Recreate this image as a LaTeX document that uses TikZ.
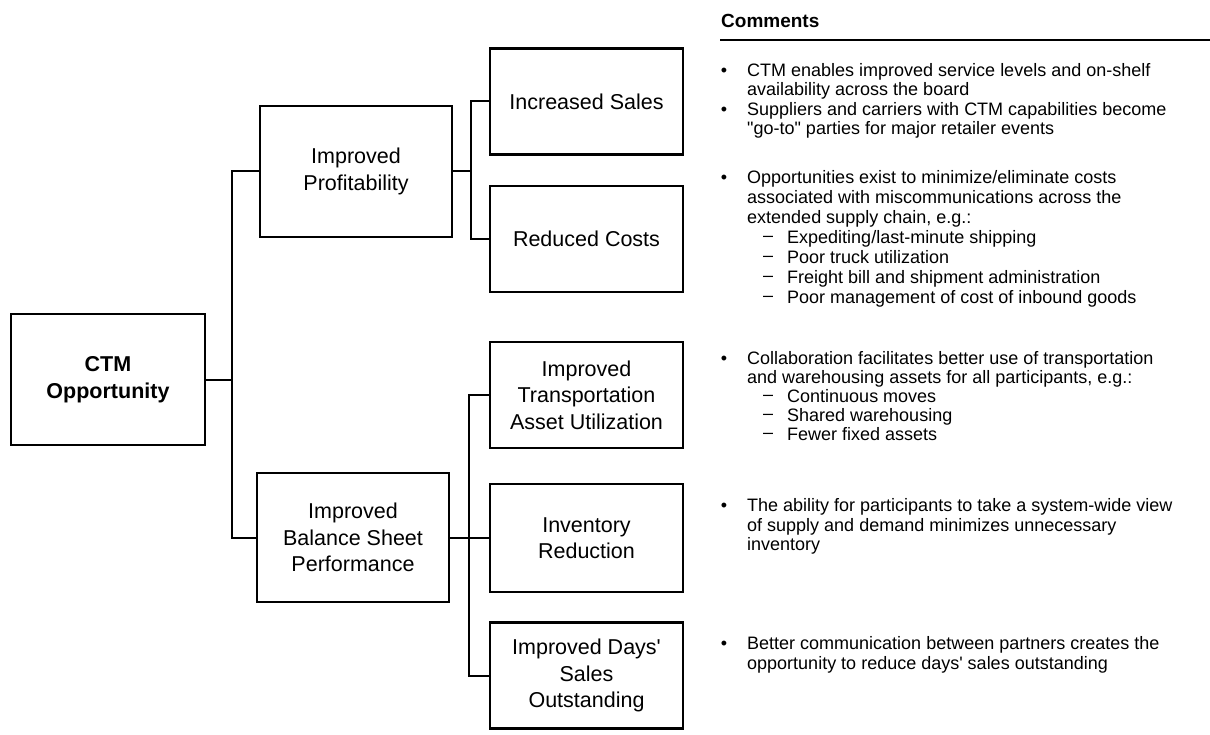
\documentclass[tikz,border=0pt]{standalone}
\usepackage{fontspec}
\setmainfont{Liberation Sans}
\newfontfamily\arialf{Liberation Sans}
\begin{document}
\begin{tikzpicture}[x=1pt,y=-1pt,
  box/.style={draw, line width=2.2pt, align=center, inner sep=0pt,
    font=\arialf\fontsize{21.5}{26.5}\selectfont},
  lvl/.style={box, minimum width=193pt, minimum height=106pt},
  conn/.style={line width=2pt},
  cline/.style={anchor=west, inner sep=0pt, text height=13pt, text depth=4pt,
    font=\arialf\fontsize{18}{19.5}\selectfont},
  bul/.style={anchor=center, inner sep=0pt, font=\arialf\fontsize{18}{19.5}\selectfont},
]
\useasboundingbox (0,0) rectangle (1210,735);

% ---- tree boxes ----
\node[box, minimum width=194pt, minimum height=131pt] (ctm) at (108,379.5)
  {\bfseries CTM\\\bfseries Opportunity};
\node[box, minimum width=192pt, minimum height=131pt] (prof) at (356,171.5)
  {Improved\\Profitability};
\node[box, minimum width=192pt, minimum height=129pt] (bal) at (353,537.5)
  {Improved\\Balance Sheet\\Performance};
\node[lvl] (inc) at (586.5,101.5) {Increased Sales};
\node[lvl] (red) at (586.5,239) {Reduced Costs};
\node[lvl] (tra) at (586.5,395) {Improved\\Transportation\\Asset Utilization};
\node[lvl, minimum height=108pt] (inv) at (586.5,538) {Inventory\\Reduction};
\node[lvl] (day) at (586.5,675.5) {Improved Days'\\Sales\\Outstanding};

% ---- connectors ----
\coordinate (j1) at (232,379.5);
\coordinate (j2) at (471,171.5);
\coordinate (j3) at (469,537.5);
\draw[conn] (ctm.east) -- (j1);
\draw[conn] (prof.west) -| (j1);
\draw[conn] (bal.west) -| (j1);
\draw[conn] (prof.east) -- (j2);
\draw[conn] (inc.west) -| (j2);
\draw[conn] (red.west) -| (j2);
\draw[conn] (bal.east) -- (j3);
\draw[conn] (tra.west) -| (j3);
\draw[conn] (inv.west) -| (j3);
\draw[conn] (day.west) -| (j3);

% ---- comments ----
\node[anchor=west, inner sep=0pt, font=\arialf\fontsize{19}{22}\selectfont\bfseries] (hdr) at (721,21) {Comments};
\coordinate (ula) at (720,40);
\coordinate (ulb) at (1210,40);
\draw[line width=1.8pt] (ula) -- (ulb);

% group 1
\node[bul] (b1) at (724,72) {•};
\node[cline] (t1a) at (747,72) {CTM enables improved service levels and on-shelf};
\node[cline] (t1b) at (747,91.5) {availability across the board};
\node[bul] (b2) at (724,111) {•};
\node[cline] (t2a) at (747,111) {Suppliers and carriers with CTM capabilities become};
\node[cline] (t2b) at (747,130) {"go-to" parties for major retailer events};

% group 2
\node[bul] (b3) at (724,179) {•};
\node[cline] (t3a) at (747,179) {Opportunities exist to minimize/eliminate costs};
\node[cline] (t3b) at (747,199) {associated with miscommunications across the};
\node[cline] (t3c) at (747,219) {extended supply chain, e.g.:};
\node[bul] (d3a) at (768,239) {–};
\node[cline] (t3d) at (787,239) {Expediting/last-minute shipping};
\node[bul] (d3b) at (768,259) {–};
\node[cline] (t3e) at (787,259) {Poor truck utilization};
\node[bul] (d3c) at (768,279) {–};
\node[cline] (t3f) at (787,279) {Freight bill and shipment administration};
\node[bul] (d3d) at (768,299) {–};
\node[cline] (t3g) at (787,299) {Poor management of cost of inbound goods};

% group 3
\node[bul] (b4) at (724,360) {•};
\node[cline] (t4a) at (747,360) {Collaboration facilitates better use of transportation};
\node[cline] (t4b) at (747,379) {and warehousing assets for all participants, e.g.:};
\node[bul] (d4a) at (768,398) {–};
\node[cline] (t4c) at (787,398) {Continuous moves};
\node[bul] (d4b) at (768,417) {–};
\node[cline] (t4d) at (787,417) {Shared warehousing};
\node[bul] (d4c) at (768,436) {–};
\node[cline] (t4e) at (787,436) {Fewer fixed assets};

% group 4
\node[bul] (b5) at (724,507) {•};
\node[cline] (t5a) at (747,507) {The ability for participants to take a system-wide view};
\node[cline] (t5b) at (747,526.5) {of supply and demand minimizes unnecessary};
\node[cline] (t5c) at (747,546) {inventory};

% group 5
\node[bul] (b6) at (724,645) {•};
\node[cline] (t6a) at (747,645) {Better communication between partners creates the};
\node[cline] (t6b) at (747,665) {opportunity to reduce days' sales outstanding};
\end{tikzpicture}
\end{document}
